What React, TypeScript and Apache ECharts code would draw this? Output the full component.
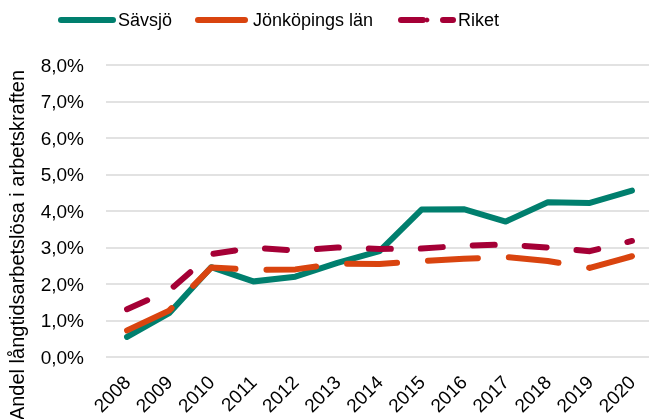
import React, { useEffect, useRef } from "react";
import * as echarts from "echarts";

const years = ["2008", "2009", "2010", "2011", "2012", "2013", "2014", "2015", "2016", "2017", "2018", "2019", "2020"];
const savsjo = [0.55, 1.2, 2.46, 2.07, 2.2, 2.58, 2.9, 4.04, 4.05, 3.71, 4.24, 4.22, 4.56];
const jonkoping = [0.73, 1.27, 2.45, 2.39, 2.4, 2.56, 2.55, 2.63, 2.69, 2.74, 2.63, 2.44, 2.76];
const riket = [1.31, 1.82, 2.82, 2.99, 2.92, 3.0, 2.96, 2.97, 3.05, 3.08, 3.0, 2.9, 3.18];
const yTicks = [0, 1, 2, 3, 4, 5, 6, 7, 8];

const TEAL = "#007F6E";
const ORANGE = "#D9440F";
const CRIMSON = "#A50036";
const FONT = "'Liberation Sans', Arial, Helvetica, sans-serif";

export default function App() {
  const ref = useRef<HTMLDivElement>(null);
  useEffect(() => {
    if (!ref.current) return;
    const chart = echarts.init(ref.current, undefined, { renderer: "svg" });
    const legendBase = {
      top: 11,
      padding: 0,
      itemHeight: 6,
      textStyle: { fontSize: 18, color: "#000", fontFamily: FONT },
    };
    chart.setOption({
      animation: false,
      textStyle: { fontFamily: FONT },
      legend: [
        { ...legendBase, left: 58, itemWidth: 52, data: ["Sävsjö"], lineStyle: { width: 6, cap: "round" } },
        { ...legendBase, left: 195, itemWidth: 50, data: ["Jönköpings län"], lineStyle: { width: 6, cap: "round", type: [47, 31] } },
        { ...legendBase, left: 398, itemWidth: 52, data: ["Riket"], lineStyle: { width: 6, cap: "round", type: [22, 20] } },
      ],
      grid: { left: 106, top: 65, width: 547, height: 292, outerBoundsMode: "none", containLabel: false },
      graphic: [
        {
          type: "text",
          x: 17,
          y: 245,
          rotation: Math.PI / 2,
          style: {
            text: "Andel långtidsarbetslösa i arbetskraften",
            fontSize: 20,
            fontFamily: FONT,
            fill: "#000",
            textAlign: "center",
            textVerticalAlign: "middle",
          },
        },
      ],
      xAxis: {
        type: "category",
        data: years,
        boundaryGap: true,
        axisLine: { show: false },
        axisTick: { show: false },
        axisLabel: { rotate: 45, fontSize: 19, color: "#000", margin: 22, interval: 0, fontFamily: FONT },
      },
      yAxis: {
        type: "value",
        min: yTicks[0],
        max: yTicks[yTicks.length - 1],
        interval: 1,
        axisLine: { show: false },
        axisTick: { show: false },
        splitLine: { lineStyle: { color: "#D9D9D9", width: 1.5 } },
        axisLabel: {
          fontSize: 19,
          color: "#000",
          margin: 22,
          fontFamily: FONT,
          formatter: (v: number) => v.toFixed(1).replace(".", ",") + "%",
        },
      },
      series: [
        {
          name: "Sävsjö",
          type: "line",
          data: savsjo,
          symbol: "none",
          color: TEAL,
          lineStyle: { color: TEAL, width: 6, cap: "round", join: "round" },
        },
        {
          name: "Jönköpings län",
          type: "line",
          data: jonkoping,
          symbol: "none",
          color: ORANGE,
          lineStyle: { color: ORANGE, width: 6, cap: "round", join: "round", type: [50, 31] },
        },
        {
          name: "Riket",
          type: "line",
          data: riket,
          symbol: "none",
          color: CRIMSON,
          lineStyle: { color: CRIMSON, width: 6, cap: "round", join: "round", type: [22, 30] },
        },
      ],
    });
    return () => chart.dispose();
  }, []);
  return <div ref={ref} style={{ position: "fixed", left: 0, top: 0, width: 649, height: 419 }} />;
}
